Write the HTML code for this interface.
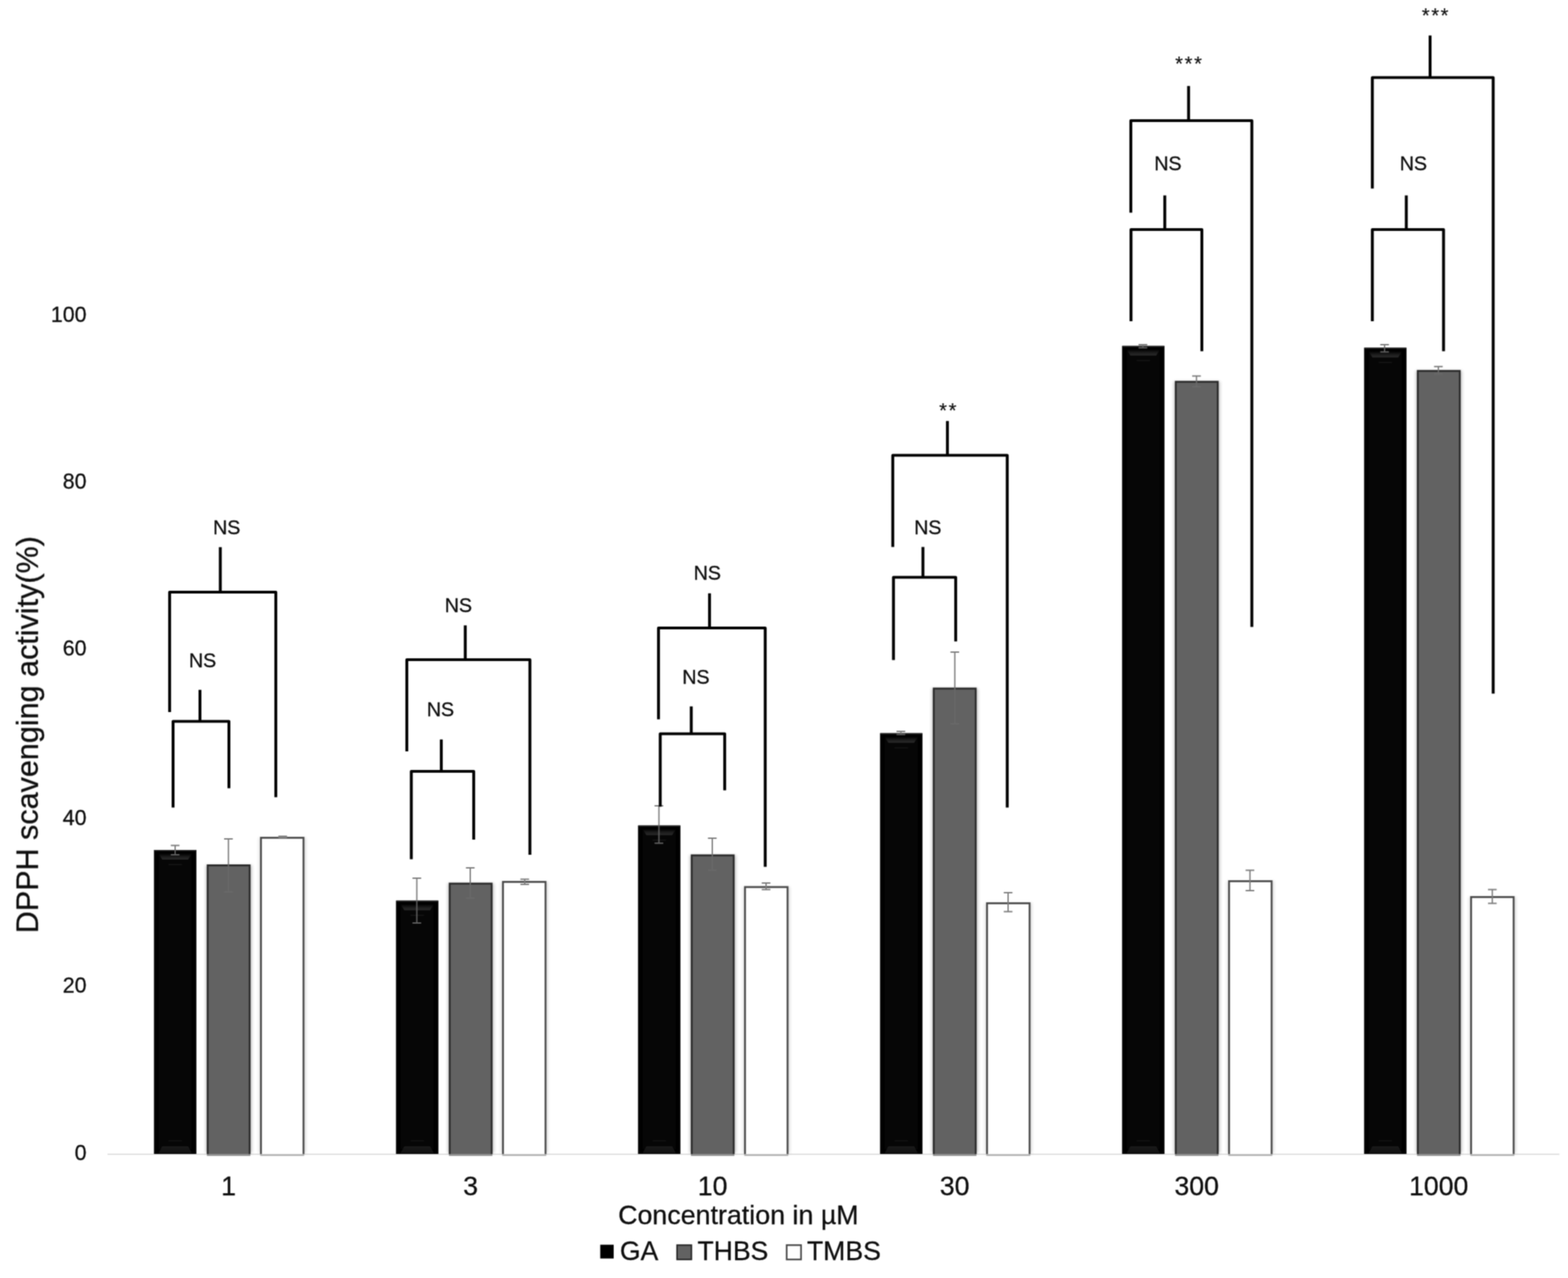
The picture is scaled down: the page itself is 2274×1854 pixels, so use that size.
<!DOCTYPE html>
<html lang="en"><head><meta charset="utf-8"><title>DPPH scavenging activity</title>
<style>html,body{margin:0;padding:0;background:#fff}body{width:2274px;height:1854px;overflow:hidden}svg{display:block}text{font-family:"Liberation Sans", sans-serif;fill:#0d0d0d;stroke:#0d0d0d;stroke-width:0.38px;stroke-linejoin:round}</style>
</head><body>
<svg width="2274" height="1854" viewBox="0 0 2274 1854">
<defs><filter id="sh" x="-20%" y="-5%" width="140%" height="110%"><feGaussianBlur stdDeviation="2.2"/></filter>
<filter id="soft" filterUnits="userSpaceOnUse" x="0" y="0" width="2274" height="1854" color-interpolation-filters="sRGB"><feConvolveMatrix order="5" kernelMatrix="0.0004 0.0080 0.0211 0.0080 0.0004 0.0080 0.1453 0.3812 0.1453 0.0080 0.0211 0.3812 1.0000 0.3812 0.0211 0.0080 0.1453 0.3812 0.1453 0.0080 0.0004 0.0080 0.0211 0.0080 0.0004" edgeMode="none" preserveAlpha="false"/></filter></defs>
<rect width="2274" height="1854" fill="#fff"/>
<g filter="url(#soft)">
<line x1="156" y1="1674.50" x2="2261.5" y2="1674.50" stroke="#d4d4d4" stroke-width="1.3"/>
<linearGradient id="bv" x1="0" y1="0" x2="0" y2="1"><stop offset="0" stop-color="#000"/><stop offset="0.55" stop-color="#1c1c1c"/><stop offset="1" stop-color="#2b2b2b"/></linearGradient>
<linearGradient id="bv2" x1="0" y1="1" x2="0" y2="0"><stop offset="0" stop-color="#101010"/><stop offset="1" stop-color="#1b1b1b"/></linearGradient>
<rect x="223.30" y="1233.00" width="61.50" height="441.00" fill="#000"/>
<rect x="230.30" y="1240.00" width="47.50" height="427.00" fill="#060606"/>
<rect x="223.80" y="1233.00" width="60.50" height="1.6" fill="#2a2a2a"/>
<path d="M229.80 1238.00L278.30 1238.00L272.80 1247.00L235.30 1247.00Z" fill="url(#bv)"/>
<path d="M244.30 1254.30h19.50" stroke="#161616" stroke-width="1.6"/>
<path d="M229.80 1673.00L278.30 1673.00L272.80 1663.00L235.30 1663.00Z" fill="url(#bv2)"/>
<path d="M244.30 1655.00h19.50" stroke="#131313" stroke-width="1.6"/>
<rect x="298.30" y="1255.10" width="67.10" height="417.40" fill="#000" opacity="0.22" filter="url(#sh)"/>
<rect x="300.10" y="1674.30" width="63.00" height="2.6" fill="#909090"/>
<path d="M301.15 1674.30V1255.40H362.05V1674.30" fill="#626262" stroke="#2a2a2a" stroke-width="2.7"/>
<rect x="375.60" y="1215.00" width="67.90" height="457.50" fill="#000" opacity="0.14" filter="url(#sh)"/>
<rect x="377.40" y="1674.30" width="63.80" height="2.6" fill="#b0b0b0"/>
<path d="M378.45 1674.30V1215.35H440.15V1674.30" fill="#fff" stroke="#4a4a4a" stroke-width="2.7"/>
<rect x="574.30" y="1306.50" width="61.50" height="367.50" fill="#000"/>
<rect x="581.30" y="1313.50" width="47.50" height="353.50" fill="#060606"/>
<rect x="574.80" y="1306.50" width="60.50" height="1.6" fill="#2a2a2a"/>
<path d="M580.80 1311.50L629.30 1311.50L623.80 1320.50L586.30 1320.50Z" fill="url(#bv)"/>
<path d="M595.30 1327.80h19.50" stroke="#161616" stroke-width="1.6"/>
<path d="M580.80 1673.00L629.30 1673.00L623.80 1663.00L586.30 1663.00Z" fill="url(#bv2)"/>
<path d="M595.30 1655.00h19.50" stroke="#131313" stroke-width="1.6"/>
<rect x="649.30" y="1281.50" width="67.10" height="391.00" fill="#000" opacity="0.22" filter="url(#sh)"/>
<rect x="651.10" y="1674.30" width="63.00" height="2.6" fill="#909090"/>
<path d="M652.15 1674.30V1281.80H713.05V1674.30" fill="#626262" stroke="#2a2a2a" stroke-width="2.7"/>
<rect x="726.60" y="1279.00" width="67.90" height="393.50" fill="#000" opacity="0.14" filter="url(#sh)"/>
<rect x="728.40" y="1674.30" width="63.80" height="2.6" fill="#b0b0b0"/>
<path d="M729.45 1674.30V1279.35H791.15V1674.30" fill="#fff" stroke="#4a4a4a" stroke-width="2.7"/>
<rect x="925.30" y="1197.50" width="61.50" height="476.50" fill="#000"/>
<rect x="932.30" y="1204.50" width="47.50" height="462.50" fill="#060606"/>
<rect x="925.80" y="1197.50" width="60.50" height="1.6" fill="#2a2a2a"/>
<path d="M931.80 1202.50L980.30 1202.50L974.80 1211.50L937.30 1211.50Z" fill="url(#bv)"/>
<path d="M946.30 1218.80h19.50" stroke="#161616" stroke-width="1.6"/>
<path d="M931.80 1673.00L980.30 1673.00L974.80 1663.00L937.30 1663.00Z" fill="url(#bv2)"/>
<path d="M946.30 1655.00h19.50" stroke="#131313" stroke-width="1.6"/>
<rect x="1000.30" y="1240.50" width="67.10" height="432.00" fill="#000" opacity="0.22" filter="url(#sh)"/>
<rect x="1002.10" y="1674.30" width="63.00" height="2.6" fill="#909090"/>
<path d="M1003.15 1674.30V1240.80H1064.05V1674.30" fill="#626262" stroke="#2a2a2a" stroke-width="2.7"/>
<rect x="1077.60" y="1286.50" width="67.90" height="386.00" fill="#000" opacity="0.14" filter="url(#sh)"/>
<rect x="1079.40" y="1674.30" width="63.80" height="2.6" fill="#b0b0b0"/>
<path d="M1080.45 1674.30V1286.85H1142.15V1674.30" fill="#fff" stroke="#4a4a4a" stroke-width="2.7"/>
<rect x="1276.30" y="1063.60" width="61.50" height="610.40" fill="#000"/>
<rect x="1283.30" y="1070.60" width="47.50" height="596.40" fill="#060606"/>
<rect x="1276.80" y="1063.60" width="60.50" height="1.6" fill="#2a2a2a"/>
<path d="M1282.80 1068.60L1331.30 1068.60L1325.80 1077.60L1288.30 1077.60Z" fill="url(#bv)"/>
<path d="M1297.30 1084.90h19.50" stroke="#161616" stroke-width="1.6"/>
<path d="M1282.80 1673.00L1331.30 1673.00L1325.80 1663.00L1288.30 1663.00Z" fill="url(#bv2)"/>
<path d="M1297.30 1655.00h19.50" stroke="#131313" stroke-width="1.6"/>
<rect x="1351.30" y="998.50" width="67.10" height="674.00" fill="#000" opacity="0.22" filter="url(#sh)"/>
<rect x="1353.10" y="1674.30" width="63.00" height="2.6" fill="#909090"/>
<path d="M1354.15 1674.30V998.80H1415.05V1674.30" fill="#626262" stroke="#2a2a2a" stroke-width="2.7"/>
<rect x="1428.60" y="1310.00" width="67.90" height="362.50" fill="#000" opacity="0.14" filter="url(#sh)"/>
<rect x="1430.40" y="1674.30" width="63.80" height="2.6" fill="#b0b0b0"/>
<path d="M1431.45 1674.30V1310.35H1493.15V1674.30" fill="#fff" stroke="#4a4a4a" stroke-width="2.7"/>
<rect x="1627.30" y="501.75" width="61.50" height="1172.25" fill="#000"/>
<rect x="1634.30" y="508.75" width="47.50" height="1158.25" fill="#060606"/>
<rect x="1627.80" y="501.75" width="60.50" height="1.6" fill="#2a2a2a"/>
<path d="M1633.80 506.75L1682.30 506.75L1676.80 515.75L1639.30 515.75Z" fill="url(#bv)"/>
<path d="M1648.30 523.05h19.50" stroke="#161616" stroke-width="1.6"/>
<path d="M1633.80 1673.00L1682.30 1673.00L1676.80 1663.00L1639.30 1663.00Z" fill="url(#bv2)"/>
<path d="M1648.30 1655.00h19.50" stroke="#131313" stroke-width="1.6"/>
<rect x="1702.30" y="553.50" width="67.10" height="1119.00" fill="#000" opacity="0.22" filter="url(#sh)"/>
<rect x="1704.10" y="1674.30" width="63.00" height="2.6" fill="#909090"/>
<path d="M1705.15 1674.30V553.80H1766.05V1674.30" fill="#626262" stroke="#2a2a2a" stroke-width="2.7"/>
<rect x="1779.60" y="1278.00" width="67.90" height="394.50" fill="#000" opacity="0.14" filter="url(#sh)"/>
<rect x="1781.40" y="1674.30" width="63.80" height="2.6" fill="#b0b0b0"/>
<path d="M1782.45 1674.30V1278.35H1844.15V1674.30" fill="#fff" stroke="#4a4a4a" stroke-width="2.7"/>
<rect x="1978.30" y="504.40" width="61.50" height="1169.60" fill="#000"/>
<rect x="1985.30" y="511.40" width="47.50" height="1155.60" fill="#060606"/>
<rect x="1978.80" y="504.40" width="60.50" height="1.6" fill="#2a2a2a"/>
<path d="M1984.80 509.40L2033.30 509.40L2027.80 518.40L1990.30 518.40Z" fill="url(#bv)"/>
<path d="M1999.30 525.70h19.50" stroke="#161616" stroke-width="1.6"/>
<path d="M1984.80 1673.00L2033.30 1673.00L2027.80 1663.00L1990.30 1663.00Z" fill="url(#bv2)"/>
<path d="M1999.30 1655.00h19.50" stroke="#131313" stroke-width="1.6"/>
<rect x="2053.30" y="537.75" width="67.10" height="1134.75" fill="#000" opacity="0.22" filter="url(#sh)"/>
<rect x="2055.10" y="1674.30" width="63.00" height="2.6" fill="#909090"/>
<path d="M2056.15 1674.30V538.05H2117.05V1674.30" fill="#626262" stroke="#2a2a2a" stroke-width="2.7"/>
<rect x="2130.60" y="1301.00" width="67.90" height="371.50" fill="#000" opacity="0.14" filter="url(#sh)"/>
<rect x="2132.40" y="1674.30" width="63.80" height="2.6" fill="#b0b0b0"/>
<path d="M2133.45 1674.30V1301.35H2195.15V1674.30" fill="#fff" stroke="#4a4a4a" stroke-width="2.7"/>
<path d="M247.70 1226.50h12.6M254.00 1226.50V1233.00" stroke="#7c7c7c" stroke-width="1.9" fill="none"/>
<path d="M247.70 1240.00h12.6M254.00 1233.00V1240.00" stroke="#606060" stroke-width="1.9" fill="none"/>
<path d="M325.00 1217.00h12.6M331.30 1217.00V1254.10" stroke="#7c7c7c" stroke-width="1.9" fill="none"/>
<path d="M325.00 1294.00h12.6M331.30 1254.10V1294.00" stroke="#696969" stroke-width="1.9" fill="none"/>
<path d="M403.70 1213.30h12.6M410.00 1213.30V1214.00" stroke="#7c7c7c" stroke-width="1.9" fill="none"/>
<path d="M403.70 1215.00h12.6M410.00 1214.00V1215.00" stroke="#7c7c7c" stroke-width="1.9" fill="none"/>
<path d="M598.20 1274.00h12.6M604.50 1274.00V1306.50" stroke="#7c7c7c" stroke-width="1.9" fill="none"/>
<path d="M598.20 1339.00h12.6M604.50 1306.50V1339.00" stroke="#606060" stroke-width="1.9" fill="none"/>
<path d="M675.70 1259.00h12.6M682.00 1259.00V1280.50" stroke="#7c7c7c" stroke-width="1.9" fill="none"/>
<path d="M675.70 1303.00h12.6M682.00 1280.50V1303.00" stroke="#696969" stroke-width="1.9" fill="none"/>
<path d="M754.70 1275.50h12.6M761.00 1275.50V1278.00" stroke="#7c7c7c" stroke-width="1.9" fill="none"/>
<path d="M754.70 1283.00h12.6M761.00 1278.00V1283.00" stroke="#7c7c7c" stroke-width="1.9" fill="none"/>
<path d="M949.30 1169.00h12.6M955.60 1169.00V1197.50" stroke="#7c7c7c" stroke-width="1.9" fill="none"/>
<path d="M949.30 1223.30h12.6M955.60 1197.50V1223.30" stroke="#606060" stroke-width="1.9" fill="none"/>
<path d="M1026.70 1216.00h12.6M1033.00 1216.00V1239.50" stroke="#7c7c7c" stroke-width="1.9" fill="none"/>
<path d="M1026.70 1262.50h12.6M1033.00 1239.50V1262.50" stroke="#696969" stroke-width="1.9" fill="none"/>
<path d="M1104.70 1281.00h12.6M1111.00 1281.00V1285.50" stroke="#7c7c7c" stroke-width="1.9" fill="none"/>
<path d="M1104.70 1290.50h12.6M1111.00 1285.50V1290.50" stroke="#7c7c7c" stroke-width="1.9" fill="none"/>
<path d="M1300.20 1061.00h12.6M1306.50 1061.00V1063.60" stroke="#7c7c7c" stroke-width="1.9" fill="none"/>
<path d="M1300.20 1065.50h12.6M1306.50 1063.60V1065.50" stroke="#606060" stroke-width="1.9" fill="none"/>
<path d="M1378.40 946.00h12.6M1384.70 946.00V997.50" stroke="#7c7c7c" stroke-width="1.9" fill="none"/>
<path d="M1378.40 1050.00h12.6M1384.70 997.50V1050.00" stroke="#696969" stroke-width="1.9" fill="none"/>
<path d="M1455.70 1295.00h12.6M1462.00 1295.00V1309.00" stroke="#7c7c7c" stroke-width="1.9" fill="none"/>
<path d="M1455.70 1322.50h12.6M1462.00 1309.00V1322.50" stroke="#7c7c7c" stroke-width="1.9" fill="none"/>
<path d="M1651.20 500.00h12.6M1657.50 500.00V501.75" stroke="#7c7c7c" stroke-width="1.9" fill="none"/>
<path d="M1651.20 504.50h12.6M1657.50 501.75V504.50" stroke="#606060" stroke-width="1.9" fill="none"/>
<path d="M1728.95 545.50h12.6M1735.25 545.50V552.50" stroke="#7c7c7c" stroke-width="1.9" fill="none"/>
<path d="M1728.95 561.00h12.6M1735.25 552.50V561.00" stroke="#696969" stroke-width="1.9" fill="none"/>
<path d="M1806.45 1262.50h12.6M1812.75 1262.50V1277.00" stroke="#7c7c7c" stroke-width="1.9" fill="none"/>
<path d="M1806.45 1292.00h12.6M1812.75 1277.00V1292.00" stroke="#7c7c7c" stroke-width="1.9" fill="none"/>
<path d="M2001.70 500.00h12.6M2008.00 500.00V504.40" stroke="#7c7c7c" stroke-width="1.9" fill="none"/>
<path d="M2001.70 510.50h12.6M2008.00 504.40V510.50" stroke="#606060" stroke-width="1.9" fill="none"/>
<path d="M2079.70 531.75h12.6M2086.00 531.75V536.75" stroke="#7c7c7c" stroke-width="1.9" fill="none"/>
<path d="M2079.70 542.50h12.6M2086.00 536.75V542.50" stroke="#696969" stroke-width="1.9" fill="none"/>
<path d="M2157.95 1290.50h12.6M2164.25 1290.50V1300.00" stroke="#7c7c7c" stroke-width="1.9" fill="none"/>
<path d="M2157.95 1310.50h12.6M2164.25 1300.00V1310.50" stroke="#7c7c7c" stroke-width="1.9" fill="none"/>
<path d="M246.00 1033.10V859.00H400.00V1156.60M319.50 793.70V859.00" stroke="#000" stroke-width="4.2" fill="none" stroke-linejoin="round"/>
<path d="M251.00 1171.60V1046.50H332.00V1143.60M290.00 1000.70V1046.50" stroke="#000" stroke-width="4.2" fill="none" stroke-linejoin="round"/>
<path d="M590.00 1090.10V957.00H768.50V1240.10M674.75 907.20V957.00" stroke="#000" stroke-width="4.2" fill="none" stroke-linejoin="round"/>
<path d="M596.50 1246.60V1119.00H687.00V1218.10M640.00 1072.70V1119.00" stroke="#000" stroke-width="4.2" fill="none" stroke-linejoin="round"/>
<path d="M955.00 1043.60V911.00H1109.75V1257.60M1029.00 860.70V911.00" stroke="#000" stroke-width="4.2" fill="none" stroke-linejoin="round"/>
<path d="M957.50 1170.20V1064.50H1051.00V1146.60M1002.50 1024.70V1064.50" stroke="#000" stroke-width="4.2" fill="none" stroke-linejoin="round"/>
<path d="M1294.75 793.60V660.50H1460.75V1171.60M1374.00 610.70V660.50" stroke="#000" stroke-width="4.2" fill="none" stroke-linejoin="round"/>
<path d="M1295.75 957.60V837.50H1386.00V930.60M1338.50 793.45V837.50" stroke="#000" stroke-width="4.2" fill="none" stroke-linejoin="round"/>
<path d="M1640.00 308.60V175.00H1815.50V909.60M1723.75 124.70V175.00" stroke="#000" stroke-width="4.2" fill="none" stroke-linejoin="round"/>
<path d="M1640.25 466.10V333.00H1743.00V509.60M1689.25 283.45V333.00" stroke="#000" stroke-width="4.2" fill="none" stroke-linejoin="round"/>
<path d="M1990.25 273.60V112.50H2165.50V1006.35M2074.00 51.45V112.50" stroke="#000" stroke-width="4.2" fill="none" stroke-linejoin="round"/>
<path d="M1990.25 466.10V333.00H2093.50V509.60M2039.50 283.45V333.00" stroke="#000" stroke-width="4.2" fill="none" stroke-linejoin="round"/>
<text x="308.90" y="775.00" font-size="28.6">NS</text>
<text x="273.90" y="967.50" font-size="28.6">NS</text>
<text x="644.90" y="888.00" font-size="28.6">NS</text>
<text x="618.90" y="1039.00" font-size="28.6">NS</text>
<text x="1005.90" y="841.00" font-size="28.6">NS</text>
<text x="989.40" y="992.00" font-size="28.6">NS</text>
<text x="1362.00" y="605.20" font-size="29.2" letter-spacing="2.3" style="stroke-width:0.2px">**</text>
<text x="1325.65" y="775.00" font-size="28.6">NS</text>
<text x="1704.35" y="101.60" font-size="29.2" letter-spacing="2.3" style="stroke-width:0.2px">***</text>
<text x="1673.90" y="247.00" font-size="28.6">NS</text>
<text x="2062.00" y="32.20" font-size="29.2" letter-spacing="2.3" style="stroke-width:0.2px">***</text>
<text x="2029.90" y="247.00" font-size="28.6">NS</text>
<text x="125.5" y="1683.30" font-size="31" text-anchor="end">0</text>
<text x="125.5" y="1440.30" font-size="31" text-anchor="end">20</text>
<text x="125.5" y="1196.70" font-size="31" text-anchor="end">40</text>
<text x="125.5" y="951.40" font-size="31" text-anchor="end">60</text>
<text x="125.5" y="708.80" font-size="31" text-anchor="end">80</text>
<text x="125.5" y="466.80" font-size="31" text-anchor="end">100</text>
<text x="331.50" y="1733.6" font-size="38.6" text-anchor="middle">1</text>
<text x="682.50" y="1733.6" font-size="38.6" text-anchor="middle">3</text>
<text x="1033.50" y="1733.6" font-size="38.6" text-anchor="middle">10</text>
<text x="1384.50" y="1733.6" font-size="38.6" text-anchor="middle">30</text>
<text x="1735.50" y="1733.6" font-size="38.6" text-anchor="middle">300</text>
<text x="2086.50" y="1733.6" font-size="38.6" text-anchor="middle">1000</text>
<text x="1070.8" y="1775.7" font-size="38.9" text-anchor="middle">Concentration in µM</text>
<text transform="translate(55 1065.8) rotate(-90)" font-size="44.3" text-anchor="middle">DPPH scavenging activity(%)</text>
<rect x="870.5" y="1805.7" width="19.5" height="20" fill="#000"/>
<text x="899" y="1827.6" font-size="38.5">GA</text>
<rect x="981.9" y="1806.3" width="20.8" height="20.8" fill="#626262" stroke="#262626" stroke-width="2.2"/>
<text x="1011.6" y="1827.6" font-size="38.5">THBS</text>
<rect x="1140.9" y="1806.3" width="20.8" height="20.8" fill="#fff" stroke="#484848" stroke-width="2.4"/>
<text x="1170.2" y="1827.6" font-size="38.7">TMBS</text>
</g>
</svg>
</body></html>
